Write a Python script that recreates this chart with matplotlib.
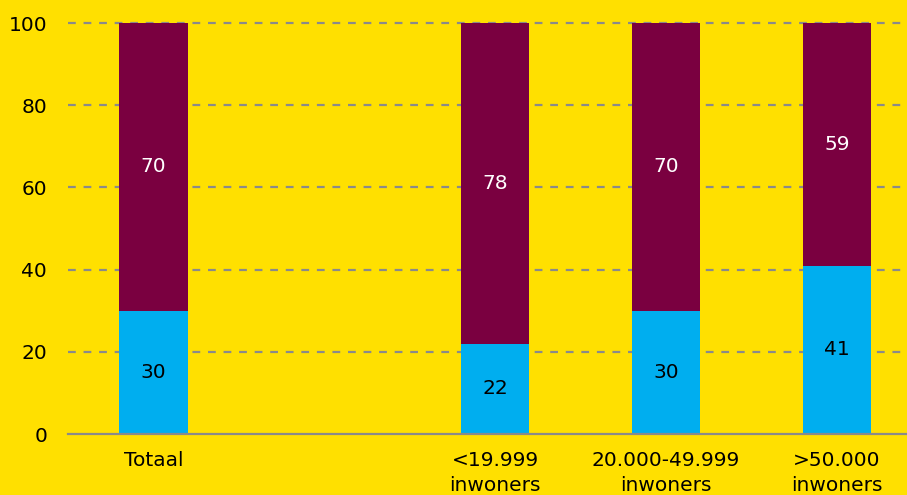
import matplotlib.pyplot as plt
import numpy as np

# data
categories = ['Totaal', '', '<19.999\ninwoners', '20.000-49.999\ninwoners', '>50.000\ninwoners']
onder = [30, None, 22, 30, 41]     # blauw
boven = [70, None, 78, 70, 59]     # paars

geel = '#FFE000'
blauw = '#00AEEF'
paars = '#7A0040'

plt.rcParams['font.family'] = ['DejaVu Sans']

fig = plt.figure(figsize=(9.07, 4.95), dpi=100, facecolor=geel)
ax = fig.add_axes([0.075, 0.1232, 0.925, 0.8303])
ax.set_facecolor(geel)

x = np.arange(len(categories))
idx = [i for i, v in enumerate(onder) if v is not None]
o = np.array([onder[i] for i in idx])
b = np.array([boven[i] for i in idx])

ax.bar(x[idx], o, width=0.4, color=blauw, zorder=3)
ax.bar(x[idx], b, width=0.4, bottom=o, color=paars, zorder=3)

fs = 14.5
for xi, v1, v2 in zip(x[idx], o, b):
    ax.text(xi, v1 / 2, str(v1), ha='center', va='center', fontsize=fs, color='black', zorder=4)
    ax.text(xi, v1 + v2 / 2, str(v2), ha='center', va='center', fontsize=fs, color='white', zorder=4)

ax.set_ylim(0, 100)
ax.set_xlim(-0.5, 4.41)
ax.set_yticks([0, 20, 40, 60, 80, 100])
ax.set_xticks(x)
ax.set_xticklabels(categories, fontsize=fs, linespacing=1.45)
ax.tick_params(axis='y', length=0, pad=15, labelsize=fs)
ax.tick_params(axis='x', length=0, pad=12)

for yv in [20, 40, 60, 80, 100]:
    ax.axhline(yv, color='#8a8a8a', lw=1.6, ls=(0, (3.5, 3.5)), zorder=1, clip_on=False)

for s in ['top', 'right', 'left']:
    ax.spines[s].set_visible(False)
ax.spines['bottom'].set_color('#8a8a8a')
ax.spines['bottom'].set_linewidth(1.6)
ax.spines['bottom'].set_zorder(5)

fig.savefig('out.png', dpi=100, facecolor=geel)
